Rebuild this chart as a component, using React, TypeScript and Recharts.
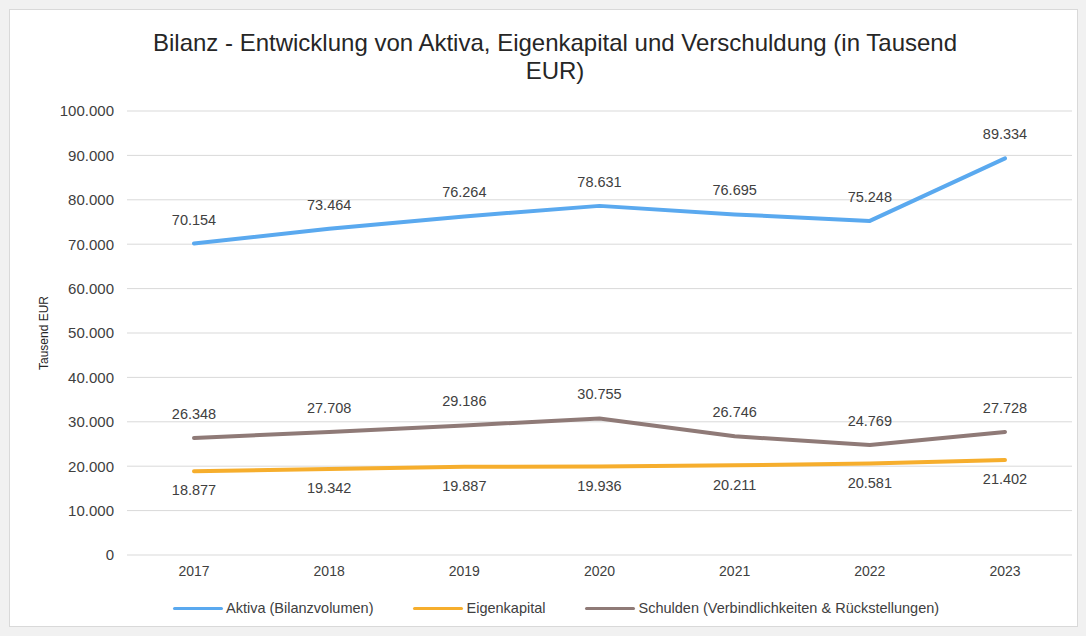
import React from "react";
import { LineChart, Line, XAxis, YAxis, CartesianGrid, LabelList } from "recharts";

const years = ["2017", "2018", "2019", "2020", "2021", "2022", "2023"];
const aktiva = [70154, 73464, 76264, 78631, 76695, 75248, 89334];
const eigenkapital = [18877, 19342, 19887, 19936, 20211, 20581, 21402];
const schulden = [26348, 27708, 29186, 30755, 26746, 24769, 27728];
const yTicks = [0, 10000, 20000, 30000, 40000, 50000, 60000, 70000, 80000, 90000, 100000];

const seriesNames = ["Aktiva (Bilanzvolumen)", "Eigenkapital", "Schulden (Verbindlichkeiten & Rückstellungen)"];
const seriesColors = ["#5aa9ef", "#f6ae2d", "#8f7a77"];

const data = years.map((y, i) => ({
  year: y,
  aktiva: aktiva[i],
  eigenkapital: eigenkapital[i],
  schulden: schulden[i],
}));

const fmt = (v: any) => String(Math.round(Number(v))).replace(/\B(?=(\d{3})+(?!\d))/g, ".");

const FONT = "'Liberation Sans', Arial, sans-serif";

export default function App() {
  return (
    <div style={{ position: "absolute", left: 0, top: 0, width: 1086, height: 636, background: "#f1f1f1", fontFamily: FONT }}>
      <div style={{ position: "absolute", left: 9, top: 9, width: 1069, height: 618, background: "#ffffff", border: "1px solid #d9d9d9", boxSizing: "border-box" }} />
      <div style={{ position: "absolute", left: 0, top: 29, width: 1110, textAlign: "center", fontSize: 24, lineHeight: "28px", color: "#262626" }}>
        Bilanz - Entwicklung von Aktiva, Eigenkapital und Verschuldung (in Tausend
        <br />
        EUR)
      </div>
      <div style={{ position: "absolute", left: 0, top: 0 }}>
        <LineChart width={1086} height={636} data={data} margin={{ top: 111, right: 14, bottom: 51, left: 0 }}>
          <CartesianGrid vertical={false} stroke="#d9d9d9" strokeWidth={1} />
          <XAxis
            dataKey="year"
            axisLine={false}
            tickLine={false}
            tickSize={0}
            tickMargin={11}
            height={30}
            padding={{ left: 67, right: 67 }}
            tick={{ fontSize: 14, fill: "#404040", fontFamily: FONT }}
          />
          <YAxis
            width={127}
            domain={[0, 100000]}
            ticks={yTicks}
            interval={0}
            axisLine={false}
            tickLine={false}
            tickSize={0}
            tickMargin={13}
            tickFormatter={fmt}
            tick={{ fontSize: 15, fill: "#404040", fontFamily: FONT }}
            label={{ value: "Tausend EUR", angle: -90, position: "insideLeft", offset: 44, style: { fontSize: 12, fill: "#262626", fontFamily: FONT, textAnchor: "middle" } }}
          />
          <Line dataKey="aktiva" name={seriesNames[0]} stroke={seriesColors[0]} strokeWidth={4} dot={false} isAnimationActive={false} strokeLinecap="round" strokeLinejoin="round">
            <LabelList dataKey="aktiva" position="top" offset={19} formatter={fmt} style={{ fontSize: 14.5, fill: "#404040", fontFamily: FONT }} />
          </Line>
          <Line dataKey="eigenkapital" name={seriesNames[1]} stroke={seriesColors[1]} strokeWidth={4} dot={false} isAnimationActive={false} strokeLinecap="round" strokeLinejoin="round">
            <LabelList dataKey="eigenkapital" position="bottom" offset={14} formatter={fmt} style={{ fontSize: 14.5, fill: "#404040", fontFamily: FONT }} />
          </Line>
          <Line dataKey="schulden" name={seriesNames[2]} stroke={seriesColors[2]} strokeWidth={4} dot={false} isAnimationActive={false} strokeLinecap="round" strokeLinejoin="round">
            <LabelList dataKey="schulden" position="top" offset={19} formatter={fmt} style={{ fontSize: 14.5, fill: "#404040", fontFamily: FONT }} />
          </Line>
        </LineChart>
      </div>
      <div style={{ position: "absolute", left: 173, top: 600, display: "flex", alignItems: "center", fontSize: 14.5, color: "#404040", whiteSpace: "nowrap" }}>
        {seriesNames.map((n, i) => (
          <div key={n} style={{ display: "flex", alignItems: "center", marginRight: 40 }}>
            <div style={{ width: 50, height: 3, background: seriesColors[i], borderRadius: 2, marginRight: 3 }} />
            <span>{n}</span>
          </div>
        ))}
      </div>
    </div>
  );
}
